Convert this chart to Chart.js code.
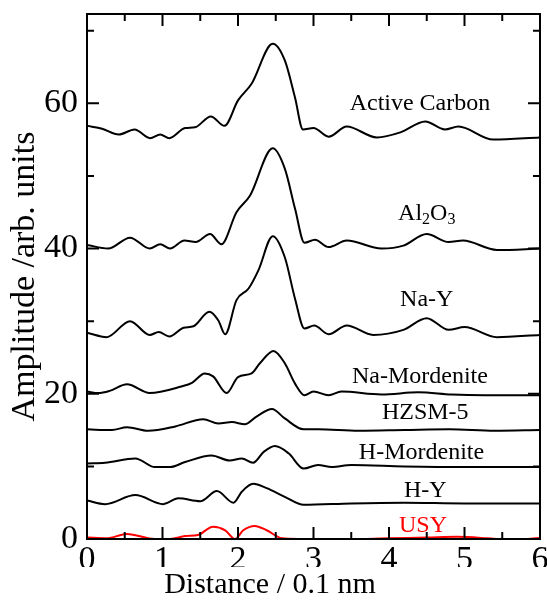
<!DOCTYPE html>
<html>
<head>
<meta charset="utf-8">
<script src="https://cdn.jsdelivr.net/npm/chart.js@4.4.1/dist/chart.umd.min.js"></script>
<style>
    html, body { margin: 0; padding: 0; background: #fff; }
    #wrap { width: 547px; height: 605px; }
</style>
</head>
<body>
<div id="wrap"><canvas id="ftChart"></canvas></div>
<script>
// values: [distance (0.1 nm), amplitude]
const activeCarbon = [[0,56.9],[0.2,56.5],[0.42,55.7],[0.63,56.4],[0.835,55.2],[0.97,55.7],[1.09,55.2],[1.3,56.6],[1.43,56.7],[1.64,58.2],[1.82,56.9],[2.0,60.4],[2.18,62.7],[2.46,68.2],[2.62,65.9],[2.755,60.8],[2.86,56.4],[3.0,56.6],[3.2,55.4],[3.44,56.8],[3.84,55.3],[4.15,56.0],[4.48,57.5],[4.74,56.4],[4.92,56.8],[5.38,55.0],[6.0,55.3]];
const alumina = [[0,40.5],[0.28,40.0],[0.57,41.5],[0.83,40.0],[0.97,40.6],[1.1,40.0],[1.29,41.1],[1.44,40.9],[1.63,42.0],[1.78,40.6],[1.98,45.0],[2.16,47.3],[2.46,53.8],[2.62,51.0],[2.755,45.5],[2.88,40.8],[3.02,41.2],[3.2,40.2],[3.44,41.1],[3.9,40.0],[4.19,40.4],[4.5,42.0],[4.79,40.9],[4.98,41.1],[5.43,39.8],[6.0,40.0]];
const naY = [[0,28.4],[0.26,27.8],[0.57,30.0],[0.83,28.1],[0.95,28.5],[1.09,27.9],[1.28,29.1],[1.41,29.3],[1.62,31.3],[1.74,30.1],[1.83,28.2],[1.98,32.9],[2.14,34.5],[2.27,37.0],[2.46,41.7],[2.62,38.8],[2.755,33.1],[2.88,29.0],[3.01,29.4],[3.2,28.2],[3.44,29.4],[3.79,28.1],[4.19,28.8],[4.5,30.4],[4.79,28.8],[5.0,29.2],[5.43,27.8],[6.0,28.1]];
const naMordenite = [[0,20.3],[0.15,20.1],[0.3,20.4],[0.53,21.3],[0.83,20.1],[1.25,21.0],[1.39,21.5],[1.56,22.8],[1.67,22.4],[1.85,20.1],[2.0,22.3],[2.18,22.8],[2.29,24.2],[2.47,25.9],[2.62,24.2],[2.755,21.4],[2.88,19.8],[3.0,20.3],[3.2,19.8],[3.37,20.3],[3.9,19.9],[4.39,20.2],[4.83,19.9],[5.27,19.8],[6.0,19.8]];
const hzsm5 = [[0,15.1],[0.33,15.0],[0.53,15.4],[0.81,14.9],[1.17,15.5],[1.54,16.5],[1.74,15.9],[1.92,16.1],[2.09,15.8],[2.25,16.9],[2.45,17.9],[2.62,16.6],[2.87,15.1],[3.06,15.1],[3.6,14.9],[4.2,15.0],[4.8,15.1],[5.4,14.9],[6.0,15.0]];
const hMordenite = [[0,10.4],[0.24,10.5],[0.64,11.1],[0.9,9.9],[1.1,9.9],[1.3,10.6],[1.65,11.5],[1.89,10.8],[2.05,11.1],[2.2,10.5],[2.34,12.0],[2.49,12.8],[2.67,11.8],[2.87,9.7],[3.06,10.2],[3.24,9.9],[3.5,10.2],[4.2,10.0],[5.0,9.9],[6.0,9.9]];
const hY = [[0,5.3],[0.24,4.8],[0.64,6.05],[1.01,4.8],[1.21,5.6],[1.5,5.2],[1.72,6.6],[1.94,5.0],[2.05,6.5],[2.2,7.6],[2.38,7.0],[2.62,5.8],[2.87,4.7],[3.5,4.9],[4.2,5.0],[5.0,4.9],[6.0,4.9]];
const usy = [[0,0.2],[0.26,0.1],[0.53,0.7],[0.9,0.0],[1.1,0.0],[1.3,0.4],[1.47,0.55],[1.67,1.7],[1.83,1.2],[1.96,0.0],[2.07,1.2],[2.22,1.8],[2.38,1.2],[2.58,0.1],[2.84,0.0],[3.2,-0.1],[4.0,0.1],[4.5,0.2],[4.9,0.3],[5.3,0.1],[5.62,-0.15],[6.0,0.15]];

const sampleNames = ['Active Carbon', 'Al2O3', 'Na-Y', 'Na-Mordenite', 'HZSM-5', 'H-Mordenite', 'H-Y', 'USY'];
const xTicks = [0, 1, 2, 3, 4, 5, 6];
const yTicks = [0, 20, 40, 60];

const FONT = "'Liberation Serif', 'Times New Roman', serif";

function series(name, pts, color, tagAt) {
    return {
        label: name,
        data: pts.map(p => ({ x: p[0], y: p[1] })),
        borderColor: color,
        borderWidth: 2,
        pointRadius: 0,
        fill: false,
        cubicInterpolationMode: 'monotone',
        tagAt: tagAt
    };
}

// draws the frame, inward ticks and the sample names
const decorations = {
    id: 'decorations',
    afterDatasetsDraw(chart) {
        const ctx = chart.ctx;
        const a = chart.chartArea;
        const x = chart.scales.x, y = chart.scales.y;
        ctx.save();
        ctx.strokeStyle = '#000';
        ctx.lineWidth = 2;
        ctx.strokeRect(a.left, a.top, a.right - a.left, a.bottom - a.top);
        ctx.beginPath();
        for (let v = 0; v <= 6; v += 0.5) {
            const px = x.getPixelForValue(v);
            const len = Number.isInteger(v) ? 12 : 7;
            ctx.moveTo(px, a.bottom); ctx.lineTo(px, a.bottom - len);
            ctx.moveTo(px, a.top); ctx.lineTo(px, a.top + len);
        }
        for (let v = 0; v <= 70; v += 10) {
            const py = y.getPixelForValue(v);
            const len = v % 20 === 0 ? 12 : 7;
            ctx.moveTo(a.left, py); ctx.lineTo(a.left + len, py);
            ctx.moveTo(a.right, py); ctx.lineTo(a.right - len, py);
        }
        ctx.stroke();

        ctx.textBaseline = 'middle';
        chart.data.datasets.forEach(ds => {
            const px = x.getPixelForValue(ds.tagAt[0]);
            const py = y.getPixelForValue(ds.tagAt[1]);
            ctx.fillStyle = ds.borderColor;
            if (ds.label === 'Al2O3') {
                const big = '24px ' + FONT, small = '16px ' + FONT;
                const parts = [['Al', big, 0], ['2', small, 6], ['O', big, 0], ['3', small, 6]];
                let w = 0;
                parts.forEach(p => { ctx.font = p[1]; w += ctx.measureText(p[0]).width; });
                let cx = px - w / 2;
                ctx.textAlign = 'left';
                parts.forEach(p => {
                    ctx.font = p[1];
                    ctx.fillText(p[0], cx, py + p[2]);
                    cx += ctx.measureText(p[0]).width;
                });
            } else {
                ctx.font = '24px ' + FONT;
                ctx.textAlign = 'center';
                ctx.fillText(ds.label, px, py);
            }
        });
        ctx.restore();
    }
};

new Chart(document.getElementById('ftChart'), {
    type: 'line',
    data: {
        datasets: [
            series(sampleNames[0], activeCarbon, '#000000', [4.41, 60.0]),
            series(sampleNames[1], alumina, '#000000', [4.5, 44.8]),
            series(sampleNames[2], naY, '#000000', [4.5, 32.9]),
            series(sampleNames[3], naMordenite, '#000000', [4.41, 22.4]),
            series(sampleNames[4], hzsm5, '#000000', [4.48, 17.4]),
            series(sampleNames[5], hMordenite, '#000000', [4.43, 11.9]),
            series(sampleNames[6], hY, '#000000', [4.48, 6.7]),
            series(sampleNames[7], usy, '#ff0000', [4.45, 1.9])
        ]
    },
    options: {
        responsive: true,
        maintainAspectRatio: false,
        animation: false,
        layout: { padding: { left: 0, right: 7, top: 14, bottom: 0 } },
        plugins: {
            legend: { display: false },
            tooltip: { enabled: false },
            title: {
                display: true,
                position: 'bottom',
                text: 'Distance / 0.1 nm',
                color: '#000',
                font: { family: FONT, size: 30, weight: 'normal' },
                padding: { top: 0, bottom: 2 }
            }
        },
        scales: {
            x: {
                type: 'linear',
                min: 0,
                max: 6,
                afterBuildTicks: s => { s.ticks = xTicks.map(v => ({ value: v })); },
                afterFit: s => { s.height = 28; s.paddingLeft = 0; s.paddingRight = 0; },
                grid: { display: false, drawTicks: false },
                border: { display: false },
                ticks: {
                    color: '#000',
                    padding: 1,
                    maxRotation: 0,
                    font: { family: FONT, size: 34 }
                }
            },
            y: {
                type: 'linear',
                min: 0,
                max: 72.3,
                afterBuildTicks: s => { s.ticks = yTicks.map(v => ({ value: v })); },
                afterFit: s => { s.width = 87; s.paddingTop = 0; s.paddingBottom = 0; },
                grid: { display: false, drawTicks: false },
                border: { display: false },
                ticks: {
                    color: '#000',
                    padding: 9,
                    font: { family: FONT, size: 34 }
                },
                title: {
                    display: true,
                    text: 'Amplitude /arb. units',
                    color: '#000',
                    font: { family: FONT, size: 34 },
                    padding: { top: 5, bottom: 0 }
                }
            }
        }
    },
    plugins: [decorations]
});
</script>
</body>
</html>
